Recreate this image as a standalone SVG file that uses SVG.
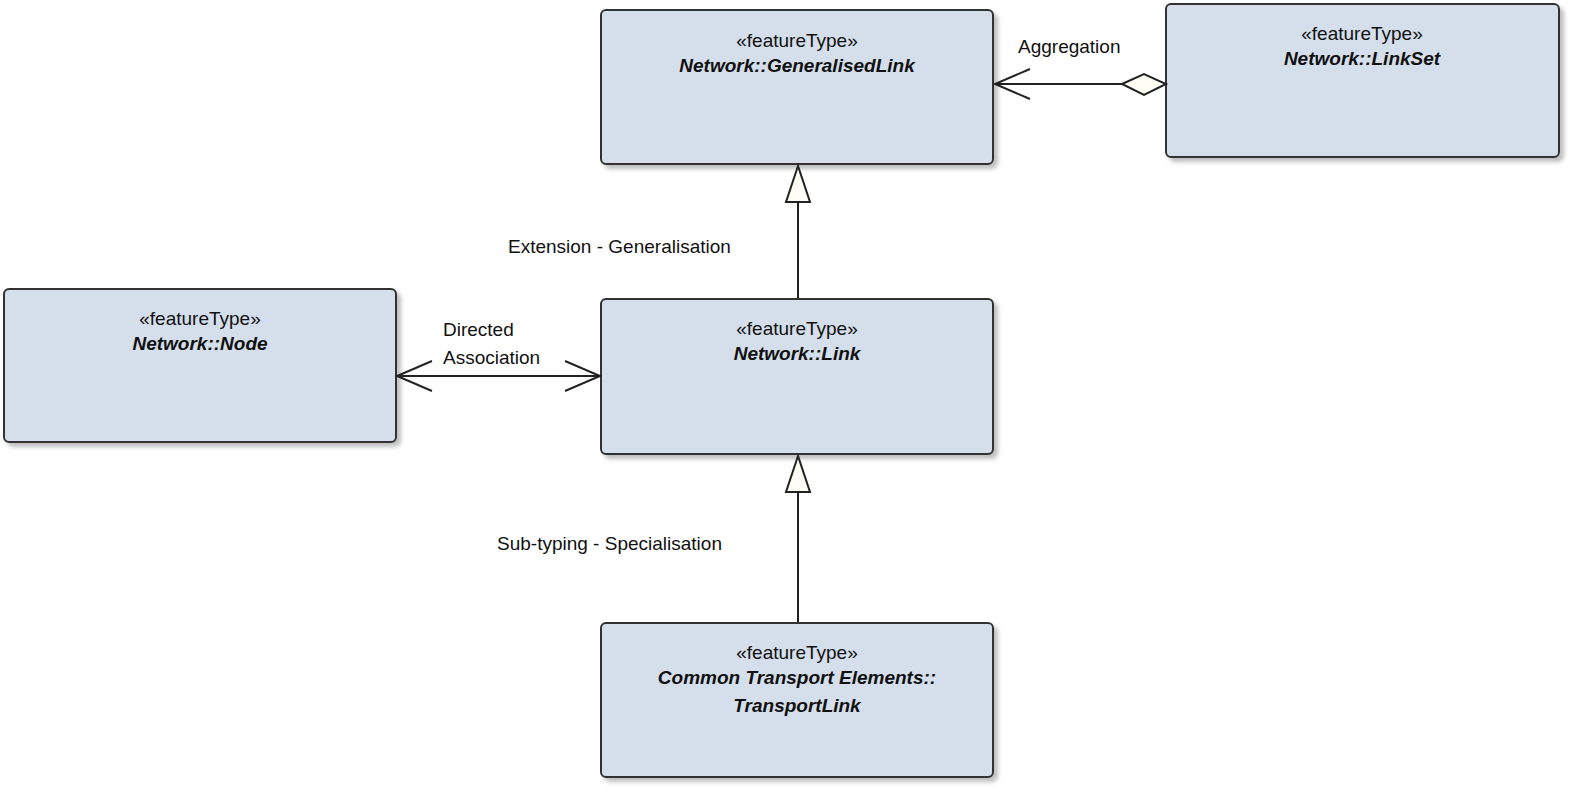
<svg xmlns="http://www.w3.org/2000/svg" width="1572" height="789" viewBox="0 0 1572 789">
<defs>
<filter id="sh" x="-5%" y="-5%" width="115%" height="115%"><feDropShadow dx="4" dy="4" stdDeviation="2" flood-color="#000" flood-opacity="0.25"/></filter>
</defs>
<style>
.box{fill:#D5DFEC;stroke:#333;stroke-width:2;filter:url(#sh)}
text{font-family:"Liberation Sans",Arial,sans-serif;font-size:19px;fill:#111}
.st{text-anchor:middle}
.nm{text-anchor:middle;font-weight:bold;font-style:italic}
.ln{fill:none;stroke:#222;stroke-width:2}
.tri{fill:#FFFEF6;stroke:#222;stroke-width:2}
</style>
<rect width="1572" height="789" fill="#fff"/>
<g id="GeneralisedLink"><rect class="box" x="601" y="10" width="392" height="154" rx="5"/>
<text class="st" x="797" y="47">«featureType»</text><text class="nm" x="797" y="72">Network::GeneralisedLink</text></g>
<g id="LinkSet"><rect class="box" x="1166" y="4" width="393" height="153" rx="5"/>
<text class="st" x="1362" y="40">«featureType»</text><text class="nm" x="1362" y="65">Network::LinkSet</text></g>
<g id="Node"><rect class="box" x="4" y="289" width="392" height="153" rx="5"/>
<text class="st" x="200" y="325">«featureType»</text><text class="nm" x="200" y="350">Network::Node</text></g>
<g id="Link"><rect class="box" x="601" y="299" width="392" height="155" rx="5"/>
<text class="st" x="797" y="335">«featureType»</text><text class="nm" x="797" y="360">Network::Link</text></g>
<g id="TransportLink"><rect class="box" x="601" y="623" width="392" height="154" rx="5"/>
<text class="st" x="797" y="659">«featureType»</text><text class="nm" x="797" y="684">Common Transport Elements::</text><text class="nm" x="797" y="712">TransportLink</text></g>
<g id="connectors">
<line class="ln" x1="798" y1="202" x2="798" y2="298"/>
<polygon class="tri" points="798,166 786,202 810,202"/>
<line class="ln" x1="798" y1="492" x2="798" y2="622"/>
<polygon class="tri" points="798,456 786,492 810,492"/>
<line class="ln" x1="995" y1="84" x2="1122" y2="84"/>
<polyline class="ln" points="1030,69 995,84 1030,99"/>
<polygon class="tri" points="1122,84 1144,74 1166,84 1144,95"/>
<line class="ln" x1="397" y1="376" x2="600" y2="376"/>
<polyline class="ln" points="432,361 397,376 432,391"/>
<polyline class="ln" points="565,361 600,376 565,391"/>
<text x="1018" y="53">Aggregation</text>
<text x="508" y="253">Extension - Generalisation</text>
<text x="443" y="336">Directed</text>
<text x="443" y="364">Association</text>
<text x="497" y="550">Sub-typing - Specialisation</text>
</g>
</svg>
